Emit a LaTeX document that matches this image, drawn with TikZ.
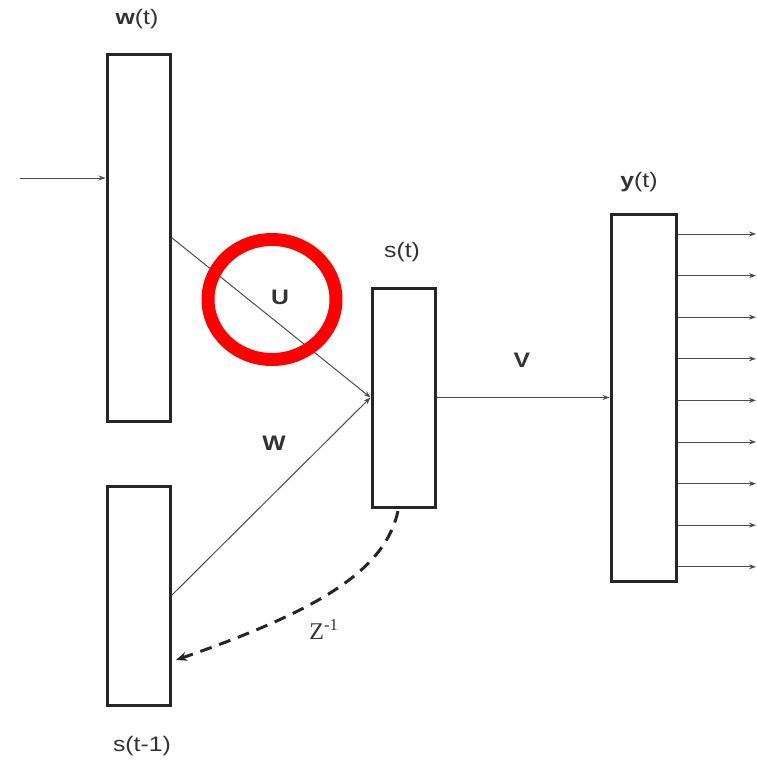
\documentclass[tikz,border=0pt]{standalone}
\usepackage{fontspec}
\setmainfont{Liberation Sans}
\newfontfamily\serifz{Liberation Serif}
\usetikzlibrary{arrows.meta}
\begin{document}
\begin{tikzpicture}[x=1pt,y=-1pt,
 layer/.style={draw=black!85, line width=3pt, minimum width=63pt, inner sep=0pt},
 conn/.style={line width=1pt, draw=black!70, -{Stealth[length=7pt,width=5pt]}},
 lbl/.style={font=\fontsize{21}{24}\selectfont, text=black!80, inner sep=0pt, xscale=1.18},
 blbl/.style={font=\fontsize{21}{24}\selectfont\bfseries, text=black!80, inner sep=0pt, xscale=1.18},
]
\useasboundingbox (0,0) rectangle (756,761);
% layers
\node[layer, minimum height=367pt] (w) at (138.5,237.5) {};
\node[layer, minimum height=219pt] (sp) at (138.5,595.5) {};
\node[layer, minimum height=219pt] (s) at (403.5,397.5) {};
\node[layer, minimum width=65pt, minimum height=367pt] (y) at (643.5,397.5) {};
% labels
\node[lbl] (lw) at (137,19) {\textbf{w}(t)};
\node[lbl] (ls) at (402,252) {s(t)};
\node[lbl] (ly) at (639,182) {\textbf{y}(t)};
\node[lbl] (lsp) at (142,746) {s(t-1)};
\node[blbl] (lU) at (280,297) {U};
\node[blbl] (lW) at (274,443) {W};
\node[blbl] (lV) at (522,360) {V};
% input
\coordinate (in) at (20,178);
\draw[conn] (in) -- (in -| w.west);
% connections
\draw[conn] (w.east) -- (s.west);
\draw[conn] (sp.east) -- (s.west);
\draw[conn] (s.east) -- (y.west);
% outputs
\foreach \i in {0,...,8} {
  \coordinate (o\i) at (756,{234+41.6*\i});
  \draw[conn] (o\i -| y.east) -- (o\i);
}
% recurrent dashed
\coordinate (ds) at (398,511);
\coordinate (de) at (176,660);
\draw[line width=3pt, draw=black!85, dash pattern=on 12pt off 8pt,
  -{Stealth[length=11pt,width=9pt]}]
  (ds) .. controls (385,570) and (320,610) .. (de);
\node[font=\serifz\fontsize{24}{26}\selectfont, text=black!80, inner sep=0pt] (z) at (324,629) {Z\textsuperscript{-1}};
% red circle
\draw[red, line width=13pt] (272,299.5) ellipse [x radius=64, y radius=60];
\end{tikzpicture}
\end{document}
